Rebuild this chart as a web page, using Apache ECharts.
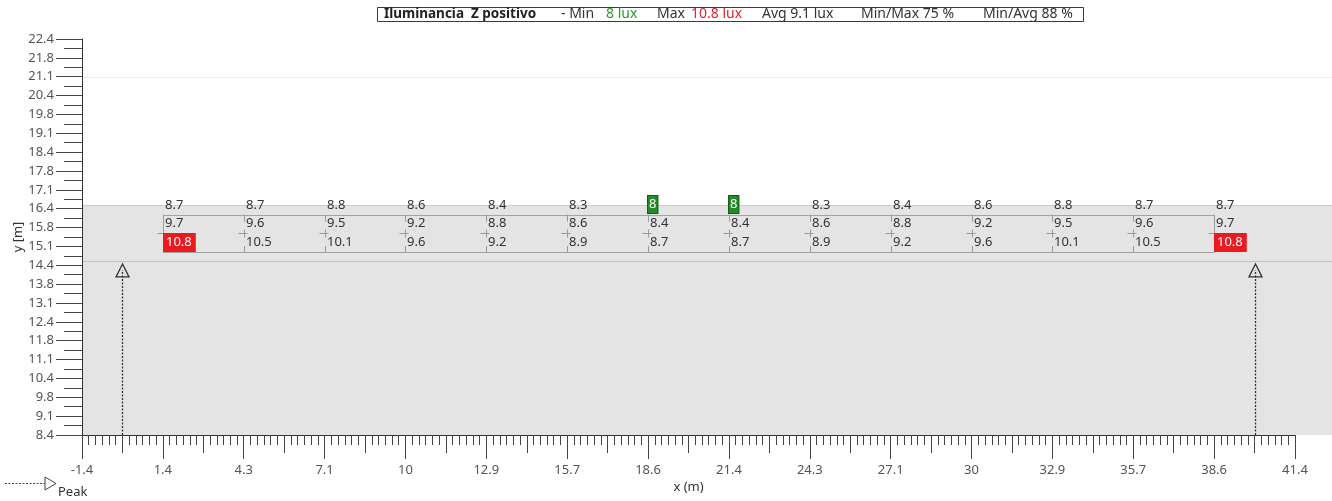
<!DOCTYPE html>
<html><head><meta charset="utf-8">
<script src="https://cdn.jsdelivr.net/npm/echarts@6/dist/echarts.min.js"></script>
<style>html,body{margin:0;padding:0;background:#fff}#c{width:1332px;height:501px}</style>
</head><body><div id="c"></div>
<script>
// ---- data ----
const X_TICK_LABELS = ['-1.4','1.4','4.3','7.1','10','12.9','15.7','18.6','21.4','24.3','27.1','30','32.9','35.7','38.6','41.4'];
const Y_TICK_LABELS = ['8.4','9.1','9.8','10.4','11.1','11.8','12.4','13.1','13.8','14.4','15.1','15.8','16.4','17.1','17.8','18.4','19.1','19.8','20.4','21.1','21.8','22.4'];
const X_COLS = [1.43, 4.29, 7.14, 10, 12.86, 15.71, 18.57, 21.43, 24.29, 27.14, 30, 32.86, 35.71, 38.57];
const Y_ROWS = [16.22, 15.56, 14.90];
const ROW_TOP = [8.7, 8.7, 8.8, 8.6, 8.4, 8.3, 8, 8, 8.3, 8.4, 8.6, 8.8, 8.7, 8.7];
const ROW_MID = [9.7, 9.6, 9.5, 9.2, 8.8, 8.6, 8.4, 8.4, 8.6, 8.8, 9.2, 9.5, 9.6, 9.7];
const ROW_BOT = [10.8, 10.5, 10.1, 9.6, 9.2, 8.9, 8.7, 8.7, 8.9, 9.2, 9.6, 10.1, 10.5, 10.8];
const PEAK_X = [0, 40];
const PEAK_TIP_Y = 14.48;
const SURFACE = [-1.4286, 8.4333, 42.75, 16.56];   // x0, y0, x1, y1 (m)
const LINE_Y = [14.585];
const FAINT_Y = [21.09];
const STAT_MIN = 8, STAT_MAX = 10.8, STAT_AVG = 9.1, STAT_MINMAX = 75, STAT_MINAVG = 88;

// ---- axes ----
const X_MIN = -10/7, X_MAX = 290/7, X_STEP = 20/7;
const Y_MIN = 8.4333, Y_MAX = 22.4333, Y_STEP = 2/3;
const FF = '"Noto Sans", "DejaVu Sans", sans-serif';

const valueData = [];
[ROW_TOP, ROW_MID, ROW_BOT].forEach((row, r) => row.forEach((v, c) => valueData.push([X_COLS[c], Y_ROWS[r], v])));
const crossData = X_COLS.map(x => [x, Y_ROWS[1]]);

const chart = echarts.init(document.getElementById('c'), null, {renderer: 'canvas'});

function renderSurface(params, api) {
  const a = api.coord([api.value(0), api.value(1)]);
  const b = api.coord([api.value(2), api.value(3)]);
  return {type: 'group', children: [
    {type: 'rect', shape: {x: a[0], y: b[1], width: b[0] - a[0], height: a[1] - b[1]}, style: {fill: '#e4e4e4'}},
    {type: 'line', shape: {x1: a[0], y1: Math.round(b[1]) + 0.5, x2: b[0], y2: Math.round(b[1]) + 0.5}, style: {stroke: '#cdcdcd', lineWidth: 1}}
  ]};
}
function renderHLine(color) {
  return function (params, api) {
    const a = api.coord([SURFACE[0], api.value(0)]);
    const b = api.coord([SURFACE[2], api.value(0)]);
    return {type: 'line', shape: {x1: a[0], y1: Math.round(a[1]) + 0.5, x2: b[0], y2: Math.round(a[1]) + 0.5}, style: {stroke: color, lineWidth: 1}};
  };
}
function renderBox(params, api) {
  const a = api.coord([X_COLS[0], Y_ROWS[0]]);
  const b = api.coord([X_COLS[X_COLS.length - 1], Y_ROWS[Y_ROWS.length - 1]]);
  return {type: 'rect', shape: {x: Math.round(a[0]) + 0.5, y: Math.round(a[1]) + 0.5, width: Math.round(b[0] - a[0]), height: Math.round(b[1] - a[1])},
    style: {fill: null, stroke: '#a3a3a3', lineWidth: 1}};
}
function renderCross(params, api) {
  const p = api.coord([api.value(0), api.value(1)]);
  const t = api.coord([api.value(0), Y_ROWS[0]]);
  const bt = api.coord([api.value(0), Y_ROWS[Y_ROWS.length - 1]]);
  const x = Math.round(p[0]) + 0.5, y = Math.round(p[1]) + 0.5;
  const st = {stroke: '#9a9a9a', lineWidth: 1};
  return {type: 'group', children: [
    {type: 'line', shape: {x1: x - 6, y1: y, x2: x + 3, y2: y}, style: st},
    {type: 'line', shape: {x1: x, y1: y - 4, x2: x, y2: y + 4}, style: st},
    {type: 'line', shape: {x1: x, y1: t[1], x2: x, y2: t[1] + 7}, style: st},
    {type: 'line', shape: {x1: x, y1: bt[1] - 6, x2: x, y2: bt[1]}, style: st}
  ]};
}
function renderPeak(params, api) {
  const pb = api.coord([api.value(0), Y_MIN]);
  const pt = api.coord([api.value(0), PEAK_TIP_Y]);
  const x = Math.round(pb[0]) + 0.5;
  return {type: 'group', children: [
    {type: 'line', shape: {x1: x, y1: pb[1], x2: x, y2: pt[1] + 6}, style: {stroke: '#333', lineWidth: 1.3, lineDash: [2, 1.5]}},
    {type: 'polygon', shape: {points: [[x, pt[1]], [x - 6.5, pt[1] + 13], [x + 6.5, pt[1] + 13]]}, style: {fill: null, stroke: '#333', lineWidth: 1.3}}
  ]};
}
function renderValue(params, api) {
  const p = api.coord([api.value(0), api.value(1)]);
  const v = api.value(2);
  const isMin = v === STAT_MIN, isMax = v === STAT_MAX;
  return {type: 'text', x: Math.round(p[0]), y: Math.round(p[1]) - (isMin ? 2 : 0),
    style: {
      text: String(v), font: '13px ' + FF,
      fill: (isMin || isMax) ? '#fff' : '#333',
      align: 'left', verticalAlign: 'bottom',
      backgroundColor: isMin ? '#23892a' : (isMax ? '#ea1a1f' : null),
      borderColor: isMin ? '#0f5e17' : null, borderWidth: isMin ? 1 : 0,
      padding: isMin ? [2, 1, 2, 1] : (isMax ? [3, 4, 3, 3] : [0, 0, 3, 2])
    }};
}

const titleText =
  '{b|Iluminancia  Z positivo}' +
  '{n1|- Min }' +
  '{g|' + STAT_MIN + ' lux}' +
  '{n2|Max }' +
  '{r|' + STAT_MAX + ' lux}' +
  '{n3|Avg ' + STAT_AVG + ' lux}' +
  '{n4|Min/Max ' + STAT_MINMAX + ' %}' +
  '{n5|Min/Avg ' + STAT_MINAVG + ' %}';
const base = {fontFamily: FF, fontSize: 14, fontWeight: 'normal', color: '#333', lineHeight: 17};

const option = {
  animation: false,
  backgroundColor: '#fff',
  textStyle: {fontFamily: FF},
  title: {
    text: titleText, left: 377, top: 6, padding: [0, 6, 0, 7],
    borderColor: '#3a3a3a', borderWidth: 1,
    textStyle: {fontWeight: 'normal', rich: {
      b: Object.assign({}, base, {fontWeight: 'bold', color: '#222', fontSize: 13.5, width: 177}),
      n1: Object.assign({}, base, {width: 45}),
      g: Object.assign({}, base, {color: '#2a9a2a', width: 51}),
      n2: Object.assign({}, base, {width: 34}),
      r: Object.assign({}, base, {color: '#e8202a', width: 71}),
      n3: Object.assign({}, base, {width: 99}),
      n4: Object.assign({}, base, {width: 122}),
      n5: Object.assign({}, base, {width: 95})
    }}
  },
  grid: {left: 82, right: 37, top: 39, bottom: 66, containLabel: false, outerBoundsMode: 'none'},
  xAxis: [{
    type: 'value', min: X_MIN, max: X_MAX, interval: X_STEP, position: 'bottom', z: 6,
    name: 'x (m)', nameLocation: 'middle', nameGap: 46, nameMoveOverlap: false,
    nameTextStyle: {fontFamily: FF, fontSize: 13, color: '#333'},
    axisLine: {show: true, onZero: false, lineStyle: {color: '#333', width: 1}},
    axisTick: {show: true, length: 24, lineStyle: {color: '#444'}},
    minorTick: {show: true, splitNumber: 12, length: 10, lineStyle: {color: '#444'}},
    axisLabel: {margin: 29, color: '#555', fontSize: 13, fontFamily: FF, formatter: (v, i) => X_TICK_LABELS[i] ?? ''},
    splitLine: {show: false}, minorSplitLine: {show: false}
  }, {
    type: 'value', min: X_MIN, max: X_MAX, interval: X_STEP / 2, position: 'bottom', offset: 0, z: 5,
    axisLine: {show: false, onZero: false},
    axisTick: {show: true, length: 18, lineStyle: {color: '#444'}},
    axisLabel: {show: false}, splitLine: {show: false}
  }],
  yAxis: {
    type: 'value', min: Y_MIN, max: Y_MAX, interval: Y_STEP, z: 6,
    name: 'y [m]', nameLocation: 'middle', nameGap: 57, nameMoveOverlap: false,
    nameTextStyle: {fontFamily: FF, fontSize: 13, color: '#333'},
    axisLine: {show: true, onZero: false, lineStyle: {color: '#333', width: 1}},
    axisTick: {show: true, length: 26, lineStyle: {color: '#444'}},
    minorTick: {show: true, splitNumber: 2, length: 18, lineStyle: {color: '#444'}},
    axisLabel: {margin: 28, color: '#555', fontSize: 13, fontFamily: FF, formatter: (v, i) => Y_TICK_LABELS[i] ?? ''},
    splitLine: {show: false}, minorSplitLine: {show: false}
  },
  graphic: [
    {type: 'line', shape: {x1: 5, y1: 483.5, x2: 45, y2: 483.5}, style: {stroke: '#444', lineWidth: 1, lineDash: [2, 1.5]}},
    {type: 'polygon', shape: {points: [[45, 477], [45, 490], [56, 483.5]]}, style: {fill: '#fff', stroke: '#444', lineWidth: 1}},
    {type: 'text', x: 58, y: 492, style: {text: 'Peak', font: '13px ' + FF, fill: '#333', verticalAlign: 'middle'}}
  ],
  series: [
    {type: 'custom', z: 1, silent: true, renderItem: renderSurface, data: [SURFACE]},
    {type: 'custom', z: 2, silent: true, renderItem: renderHLine('#c2c2c2'), data: LINE_Y.map(v => [v])},
    {type: 'custom', z: 2, silent: true, renderItem: renderHLine('#eeeeee'), data: FAINT_Y.map(v => [v])},
    {type: 'custom', z: 3, silent: true, renderItem: renderBox, data: [[0]]},
    {type: 'custom', z: 3, silent: true, renderItem: renderCross, data: crossData},
    {type: 'custom', z: 4, silent: true, renderItem: renderPeak, data: PEAK_X.map(x => [x])},
    {type: 'custom', z: 5, silent: true, renderItem: renderValue, data: valueData}
  ]
};
chart.setOption(option);
</script></body></html>
